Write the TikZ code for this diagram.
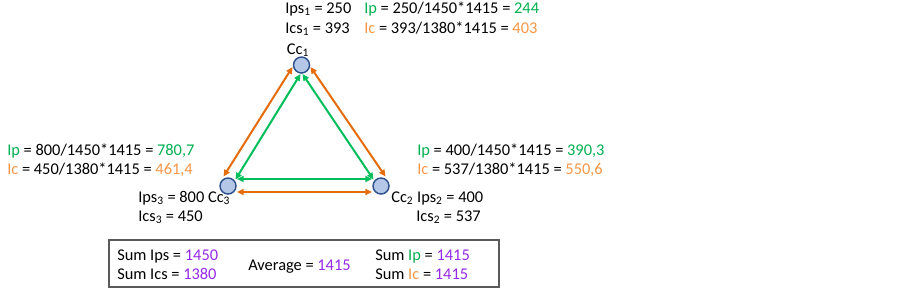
\documentclass[tikz,border=0pt]{standalone}
\usepackage{fontspec}
\setmainfont{Carlito}
\usetikzlibrary{arrows.meta,calc}
\definecolor{pgreen}{RGB}{0,176,80}
\definecolor{lgreen}{RGB}{0,190,90}
\definecolor{porange}{RGB}{247,150,70}
\definecolor{lorange}{RGB}{228,108,10}
\definecolor{ppurple}{RGB}{150,40,230}
\definecolor{cfill}{RGB}{180,199,231}
\definecolor{cdraw}{RGB}{47,82,143}
\definecolor{boxgray}{RGB}{90,90,90}
\begin{document}
\begin{tikzpicture}[x=0.75pt,y=-0.75pt,
  cc/.style={circle,draw=cdraw,fill=cfill,line width=1.1pt,minimum size=12pt,inner sep=0pt},
  txt/.style={inner sep=0pt,anchor=base west,font=\fontsize{12.3}{15}\selectfont},
  garrow/.style={draw=lgreen,line width=1.5pt,{Triangle[length=5pt,width=4.5pt]}-{Triangle[length=5pt,width=4.5pt]}},
  oarrow/.style={draw=lorange,line width=1.5pt,{Triangle[length=5pt,width=4.5pt]}-{Triangle[length=5pt,width=4.5pt]}},
  sumbox/.style={draw=boxgray,line width=1.1pt}]
\useasboundingbox (0,0) rectangle (902,290);
% nodes
\node[cc] (c1) at (301.5,65) {};
\node[cc] (c3) at (228,186) {};
\node[cc] (c2) at (381,186) {};
% connectors
\draw[oarrow] ($(c1)+(-9,2)$) -- ($(c3)+(-4.5,-9.5)$);
\draw[oarrow] ($(c1)+(9,2)$) -- ($(c2)+(4.5,-9.5)$);
\draw[garrow] ($(c1)+(-1,9)$) -- ($(c3)+(7.5,-6.5)$);
\draw[garrow] ($(c1)+(1,9)$) -- ($(c2)+(-7.5,-6.5)$);
\draw[garrow] ($(c3)+(9,-7)$) -- ($(c2)+(-9,-7)$);
\draw[oarrow] ($(c3)+(9,6)$) -- ($(c2)+(-9,6)$);
% labels near Cc1
\node[txt,anchor=base] (l1) at (298,54) {Cc\textsubscript{1}};
\node[txt] (t1a) at (285,13) {Ips\textsubscript{1} = 250};
\node[txt] (t1b) at (285,33) {Ics\textsubscript{1} = 393};
\node[txt] (t1c) at (364,13) {\textcolor{pgreen}{Ip} = 250/1450*1415 = \textcolor{pgreen}{244}};
\node[txt] (t1d) at (364,33) {\textcolor{porange}{Ic} = 393/1380*1415 = \textcolor{porange}{403}};
% labels near Cc3
\node[txt] (t3c) at (7,155) {\textcolor{pgreen}{Ip} = 800/1450*1415 = \textcolor{pgreen}{780,7}};
\node[txt] (t3d) at (7,174) {\textcolor{porange}{Ic} = 450/1380*1415 = \textcolor{porange}{461,4}};
\node[txt] (t3a) at (138,202) {Ips\textsubscript{3} = 800 Cc\textsubscript{3}};
\node[txt] (t3b) at (138,221) {Ics\textsubscript{3} = 450};
% labels near Cc2
\node[txt] (t2c) at (417,155) {\textcolor{pgreen}{Ip} = 400/1450*1415 = \textcolor{pgreen}{390,3}};
\node[txt] (t2d) at (417,174) {\textcolor{porange}{Ic} = 537/1380*1415 = \textcolor{porange}{550,6}};
\node[txt] (t2a) at (391,202) {Cc\textsubscript{2} Ips\textsubscript{2} = 400};
\node[txt] (t2b) at (416,221) {Ics\textsubscript{2} = 537};
% summary box
\draw[sumbox] (109,240) rectangle (499,287);
\node[txt] (s1) at (117,260) {Sum Ips = \textcolor{ppurple}{1450}};
\node[txt] (s2) at (117,279) {Sum Ics = \textcolor{ppurple}{1380}};
\node[txt] (s3) at (248,270) {Average = \textcolor{ppurple}{1415}};
\node[txt] (s4) at (375,260) {Sum \textcolor{pgreen}{Ip} = \textcolor{ppurple}{1415}};
\node[txt] (s5) at (375,279) {Sum \textcolor{porange}{Ic} = \textcolor{ppurple}{1415}};
\end{tikzpicture}
\end{document}
